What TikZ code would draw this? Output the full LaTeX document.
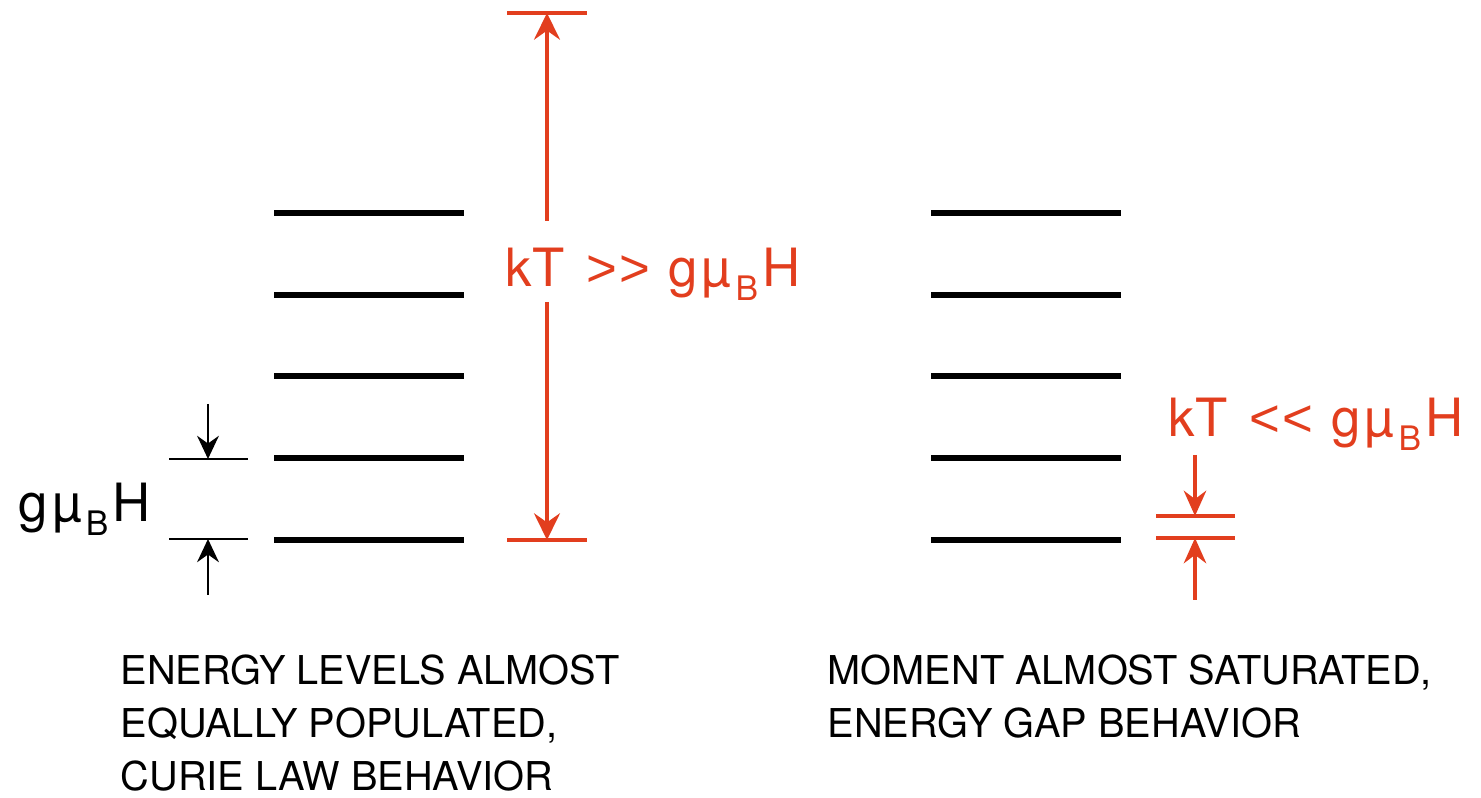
\documentclass[tikz,border=0pt]{standalone}
\usepackage{fontspec}
\setmainfont{TeX Gyre Heros}
\newfontfamily\relfont{Liberation Sans}
\usetikzlibrary{arrows.meta}
\definecolor{accent}{RGB}{226,62,30}
% lowered small capital used as the subscript in g mu_B H
\newcommand{\lowsub}[1]{\raisebox{-0.25em}{\scalebox{0.64}{#1}}}
\newcommand{\gmub}{g\kern0.08emµ\kern0.08em\lowsub{B}\kern0.08emH}
% two relation signs kept apart so they are not joined into a guillemet
\newcommand{\much}[1]{\kern0.15em{\relfont#1\kern0.04em#1}\kern0.06em\relax}
\tikzset{
  level/.style={line width=1.6pt, line cap=butt},
  tick/.style={line width=0.6pt},
  redtick/.style={line width=1pt, accent},
  gaparrow/.style={line width=0.6pt, -{Stealth[length=6.6pt, width=6.2pt, inset=2.2pt]}},
  redarrow/.style={line width=1pt, accent, -{Stealth[length=7.6pt, width=7.4pt, inset=2.6pt]}},
  smallred/.style={line width=1pt, accent, -{Stealth[length=7.2pt, width=6.4pt, inset=2.4pt]}},
  label/.style={inner sep=0pt, anchor=base west, font=\fontsize{15pt}{17pt}\selectfont},
  caption/.style={inner sep=0pt, anchor=base west, font=\fontsize{11.3pt}{15pt}\selectfont},
}
\begin{document}
\begin{tikzpicture}[x=0.01cm, y=-0.01cm]
\useasboundingbox (0,0) rectangle (1481,798);

% energy levels, left ladder
\foreach \i/\y in {1/540, 2/458, 3/376, 4/295, 5/213} {
  \coordinate (L\i w) at (274,\y);
  \coordinate (L\i e) at (464,\y);
  \draw[level] (L\i w) -- (L\i e);
}
% energy levels, right ladder
\foreach \i/\y in {1/540, 2/458, 3/376, 4/295, 5/213} {
  \coordinate (R\i w) at (931,\y);
  \coordinate (R\i e) at (1121,\y);
  \draw[level] (R\i w) -- (R\i e);
}

% level spacing marker
\coordinate (sa) at (169,459); \coordinate (sb) at (248,459);
\coordinate (sc) at (169,539); \coordinate (sd) at (248,539);
\draw[tick] (sa) -- (sb);
\draw[tick] (sc) -- (sd);
\coordinate (supper) at (208,459); \coordinate (slower) at (208,539);
\coordinate (sfromtop) at (208,404); \coordinate (sfrombot) at (208,595);
\draw[gaparrow] (sfromtop) -- (supper);
\draw[gaparrow] (sfrombot) -- (slower);
\node[label] (gap) at (18,522) {\gmub};

% thermal energy, high temperature
\coordinate (ka) at (507,13); \coordinate (kb) at (587,13);
\coordinate (kc) at (507,540); \coordinate (kd) at (587,540);
\draw[redtick] (ka) -- (kb);
\draw[redtick] (kc) -- (kd);
\coordinate (ktop) at (547,13); \coordinate (kbot) at (547,540);
\coordinate (kup) at (547,221); \coordinate (kdown) at (547,302);
\draw[redarrow] (kup) -- (ktop);
\draw[redarrow] (kdown) -- (kbot);
\node[label, accent] (high) at (505,287) {kT \much{>} \gmub};

% thermal energy, low temperature
\coordinate (ma) at (1156,516); \coordinate (mb) at (1235,516);
\coordinate (mc) at (1156,538); \coordinate (md) at (1235,538);
\draw[redtick] (ma) -- (mb);
\draw[redtick] (mc) -- (md);
\coordinate (mtop) at (1195,516); \coordinate (mbot) at (1195,538);
\coordinate (mfromtop) at (1195,455); \coordinate (mfrombot) at (1195,600);
\draw[smallred] (mfromtop) -- (mtop);
\draw[smallred] (mfrombot) -- (mbot);
\node[label, accent] (low) at (1168,437) {kT \much{<} \gmub};

% captions
\node[caption] (c1) at (120,685) {ENERGY LEVELS ALMOST};
\node[caption] (c2) at (120,738) {EQUALLY POPULATED,};
\node[caption] (c3) at (120,791) {CURIE LAW BEHAVIOR};
\node[caption] (d1) at (827,685) {MOMENT ALMOST SATURATED,};
\node[caption] (d2) at (827,738) {ENERGY GAP BEHAVIOR};
\end{tikzpicture}
\end{document}
